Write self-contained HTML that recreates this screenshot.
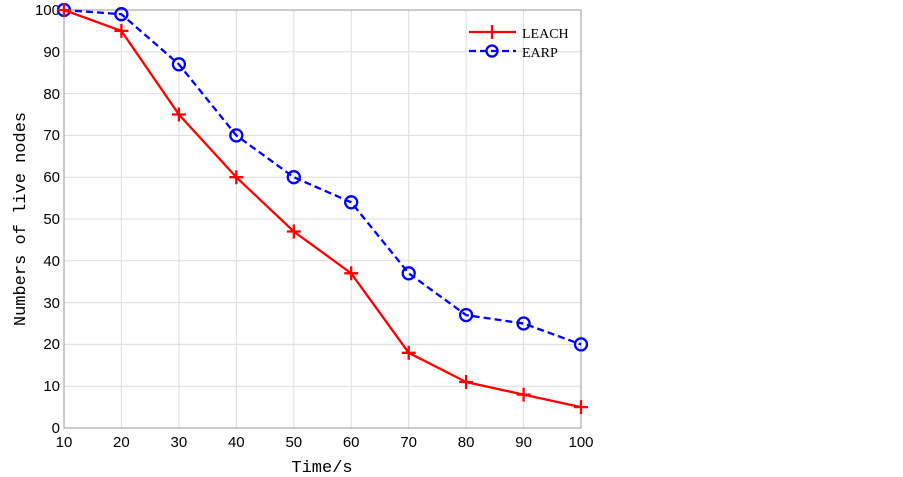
<!DOCTYPE html>
<html><head><meta charset="utf-8"><style>body{margin:0;background:#fff}svg{display:block}</style></head><body>
<svg width="903" height="477" xmlns="http://www.w3.org/2000/svg" font-family="Liberation Sans, sans-serif">
<rect width="903" height="477" fill="#fff"/>
<g stroke="#dcdcdc" stroke-width="1">
<line x1="121.4" y1="10" x2="121.4" y2="428"/><line x1="178.9" y1="10" x2="178.9" y2="428"/><line x1="236.3" y1="10" x2="236.3" y2="428"/><line x1="293.8" y1="10" x2="293.8" y2="428"/><line x1="351.2" y1="10" x2="351.2" y2="428"/><line x1="408.7" y1="10" x2="408.7" y2="428"/><line x1="466.1" y1="10" x2="466.1" y2="428"/><line x1="523.6" y1="10" x2="523.6" y2="428"/>
<line x1="64" y1="386.2" x2="581" y2="386.2"/><line x1="64" y1="344.4" x2="581" y2="344.4"/><line x1="64" y1="302.6" x2="581" y2="302.6"/><line x1="64" y1="260.8" x2="581" y2="260.8"/><line x1="64" y1="219" x2="581" y2="219"/><line x1="64" y1="177.2" x2="581" y2="177.2"/><line x1="64" y1="135.4" x2="581" y2="135.4"/><line x1="64" y1="93.6" x2="581" y2="93.6"/><line x1="64" y1="51.8" x2="581" y2="51.8"/>
</g>
<rect x="64" y="10" width="517" height="418" fill="none" stroke="#999" stroke-width="1"/>
<g font-size="15" fill="#000" text-anchor="end">
<text x="60" y="433">0</text><text x="60" y="391">10</text><text x="60" y="349">20</text><text x="60" y="308">30</text><text x="60" y="266">40</text><text x="60" y="224">50</text><text x="60" y="182">60</text><text x="60" y="140">70</text><text x="60" y="99">80</text><text x="60" y="57">90</text><text x="60" y="15">100</text>
</g>
<g font-size="15" fill="#000" text-anchor="middle">
<text x="64" y="447">10</text><text x="121.4" y="447">20</text><text x="178.9" y="447">30</text><text x="236.3" y="447">40</text><text x="293.8" y="447">50</text><text x="351.2" y="447">60</text><text x="408.7" y="447">70</text><text x="466.1" y="447">80</text><text x="523.6" y="447">90</text><text x="581" y="447">100</text>
</g>
<text x="322" y="472" font-family="Liberation Mono, monospace" font-size="17" text-anchor="middle">Time/s</text>
<text transform="translate(25,219) rotate(-90)" font-family="Liberation Mono, monospace" font-size="17" text-anchor="middle">Numbers of live nodes</text>
<polyline fill="none" stroke="#00f" stroke-width="2.3" stroke-dasharray="7,4" points="64,10 121.4,14.2 178.9,64.3 236.3,135.4 293.8,177.2 351.2,202.3 408.7,273.3 466.1,315.1 523.6,323.5 581,344.4"/>
<g fill="none" stroke="#00f" stroke-width="2.3">
<circle cx="64" cy="10" r="6"/><circle cx="121.4" cy="14.2" r="6"/><circle cx="178.9" cy="64.3" r="6"/><circle cx="236.3" cy="135.4" r="6"/><circle cx="293.8" cy="177.2" r="6"/><circle cx="351.2" cy="202.3" r="6"/><circle cx="408.7" cy="273.3" r="6"/><circle cx="466.1" cy="315.1" r="6"/><circle cx="523.6" cy="323.5" r="6"/><circle cx="581" cy="344.4" r="6"/>
</g>
<polyline fill="none" stroke="#f00" stroke-width="2.3" points="64,10 121.4,30.9 178.9,114.5 236.3,177.2 293.8,231.5 351.2,273.3 408.7,352.8 466.1,382 523.6,394.6 581,407.1"/>
<g stroke="#f00" stroke-width="2.3">
<path d="M57,10h14M64,3v14 M114.4,30.9h14M121.4,23.9v14 M171.9,114.5h14M178.9,107.5v14 M229.3,177.2h14M236.3,170.2v14 M286.8,231.5h14M293.8,224.5v14 M344.2,273.3h14M351.2,266.3v14 M401.7,352.8h14M408.7,345.8v14 M459.1,382h14M466.1,375v14 M516.6,394.6h14M523.6,387.6v14 M574,407.1h14M581,400.1v14"/>
</g>
<g>
<line x1="469" y1="32" x2="516" y2="32" stroke="#f00" stroke-width="2.3"/><line x1="492" y1="25" x2="492" y2="39" stroke="#f00" stroke-width="2.3"/>
<line x1="469" y1="51" x2="516" y2="51" stroke="#00f" stroke-width="2.3" stroke-dasharray="7,4"/><circle cx="492" cy="51" r="5.5" fill="none" stroke="#00f" stroke-width="2.3"/>
<text x="522" y="38" font-family="Liberation Serif, serif" font-size="14">LEACH</text>
<text x="522" y="57" font-family="Liberation Serif, serif" font-size="14">EARP</text>
</g>
</svg>
</body></html>
